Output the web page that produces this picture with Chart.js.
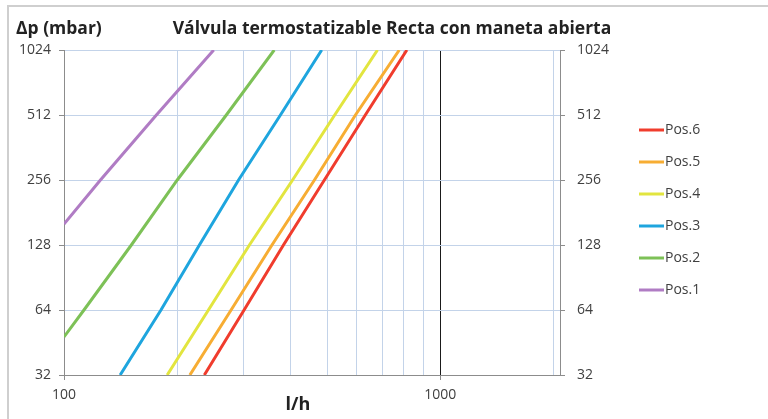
<!DOCTYPE html>
<html>
<head>
<meta charset="utf-8">
<script src="https://cdn.jsdelivr.net/npm/chart.js@4/dist/chart.umd.min.js"></script>
<style>
  html, body { margin: 0; padding: 0; background: #fff; }
  #wrap { position: relative; width: 768px; height: 419px; overflow: hidden; }
  #frame { position: absolute; left: 7px; top: 5px; right: -4px; bottom: -4px;
           border-left: 2px solid #cfcfcf; border-top: 2px solid #cfcfcf; pointer-events: none; }
  canvas { position: absolute; left: 0; top: 0; }
</style>
</head>
<body>
<div id="wrap">
  <canvas id="chart" width="768" height="419"></canvas>
  <div id="frame"></div>
</div>
<script>
// Texts
const chartTitle = 'Válvula termostatizable Recta con maneta abierta';
const yCaption = 'Δp (mbar)';
const xCaption = 'l/h';

// Axis ticks
const dpTicks = [32, 64, 128, 256, 512, 1024];
const flowTicks = [100, 200, 300, 400, 500, 600, 700, 800, 900, 1000, 2000];
const flowLabelled = [100, 1000];

// Series (flow in l/h against pressure drop in mbar)
const seriesNames = ['Pos.6', 'Pos.5', 'Pos.4', 'Pos.3', 'Pos.2', 'Pos.1'];
const seriesColors = ['#f03c2d', '#f7ad33', '#e2e53f', '#1ea5de', '#7dc157', '#b07cc4'];

const pos6Dp = [32, 64, 128, 256, 512, 1024];
const pos6Flow = [236, 301, 383, 492, 632, 815];
const pos5Dp = [32, 64, 128, 256, 512, 1024];
const pos5Flow = [216, 278, 357, 463, 595, 778];
const pos4Dp = [32, 64, 128, 256, 512, 1024];
const pos4Flow = [188, 242, 311, 405, 524, 681];
const pos3Dp = [32, 64, 128, 256, 512, 1024];
const pos3Flow = [141, 181, 229, 291, 376, 484];
const pos2Dp = [48, 64, 128, 256, 512, 1024];
const pos2Flow = [100, 113, 151, 200, 270, 362];
const pos1Dp = [160, 256, 512, 1024];
const pos1Flow = [100, 125, 176, 250];

const seriesFlow = [pos6Flow, pos5Flow, pos4Flow, pos3Flow, pos2Flow, pos1Flow];
const seriesDp = [pos6Dp, pos5Dp, pos4Dp, pos3Dp, pos2Dp, pos1Dp];

const FONT = '"Open Sans", "DejaVu Sans", sans-serif';
const TEXT = '#404040';
const GRID = '#c3d3e9';
const AXIS = '#8c8c8c';

const datasets = seriesNames.map((name, i) => ({
  label: name,
  data: seriesFlow[i].map((q, k) => ({ x: q, y: seriesDp[i][k] })),
  borderColor: seriesColors[i],
  backgroundColor: seriesColors[i],
  borderWidth: 3,
  pointRadius: 0,
  tension: 0,
  fill: false
}));

const setTicks = values => scale => { scale.ticks = values.map(v => ({ value: v })); };

// Captions and legend drawn on top of the chart
const decorations = {
  id: 'decorations',
  afterDraw(chart) {
    const ctx = chart.ctx;
    ctx.save();
    ctx.fillStyle = '#222222';
    ctx.textBaseline = 'middle';

    ctx.font = 'bold 17.5px ' + FONT;
    ctx.textAlign = 'center';
    ctx.fillText(chartTitle, 392, 29);

    ctx.textAlign = 'left';
    ctx.fillText(yCaption, 16, 29);

    ctx.font = 'bold 18px ' + FONT;
    ctx.textAlign = 'center';
    ctx.fillText(xCaption, 298, 405);

    ctx.font = '14px ' + FONT;
    ctx.textAlign = 'left';
    chart.data.datasets.forEach((ds, i) => {
      const y = 130 + 32 * i;
      ctx.strokeStyle = ds.borderColor;
      ctx.lineWidth = 3;
      ctx.beginPath();
      ctx.moveTo(639, y);
      ctx.lineTo(664, y);
      ctx.stroke();
      ctx.fillStyle = TEXT;
      ctx.fillText(ds.label, 665, y);
    });
    ctx.restore();
  }
};

new Chart(document.getElementById('chart'), {
  type: 'line',
  data: { datasets },
  options: {
    responsive: false,
    animation: false,
    layout: { padding: { top: 50, left: 0, right: 0, bottom: 0 } },
    plugins: { legend: { display: false }, tooltip: { enabled: false }, title: { display: false } },
    scales: {
      x: {
        type: 'logarithmic',
        min: 100,
        max: 2080,
        afterBuildTicks: setTicks(flowTicks),
        afterFit: s => { s.height = 44; },
        ticks: {
          autoSkip: false, maxRotation: 0, padding: 7, color: TEXT,
          font: { family: FONT, size: 14 },
          callback: v => flowLabelled.includes(v) ? String(v) : ''
        },
        grid: {
          color: c => (c.tick && c.tick.value === 1000) ? '#1a1a1a' : GRID,
          tickColor: c => (c.tick && flowLabelled.includes(c.tick.value)) ? AXIS : 'rgba(0,0,0,0)',
          tickLength: 5, lineWidth: 1
        },
        border: { color: AXIS, width: 1 }
      },
      y: {
        type: 'logarithmic',
        position: 'left',
        min: 32,
        max: 1024,
        afterBuildTicks: setTicks(dpTicks),
        afterFit: s => { s.width = 64; },
        ticks: {
          padding: 8, color: TEXT, font: { family: FONT, size: 14 },
          callback: v => String(v)
        },
        grid: { color: GRID, tickColor: AXIS, tickLength: 5, lineWidth: 1 },
        border: { color: AXIS, width: 1 }
      },
      y2: {
        type: 'logarithmic',
        position: 'right',
        min: 32,
        max: 1024,
        afterBuildTicks: setTicks(dpTicks),
        afterFit: s => { s.width = 208; },
        ticks: {
          padding: 12, color: TEXT, font: { family: FONT, size: 14 },
          callback: v => String(v)
        },
        grid: { drawOnChartArea: false, tickColor: AXIS, tickLength: 5 },
        border: { color: AXIS, width: 1 }
      }
    }
  },
  plugins: [decorations]
});
</script>
</body>
</html>
